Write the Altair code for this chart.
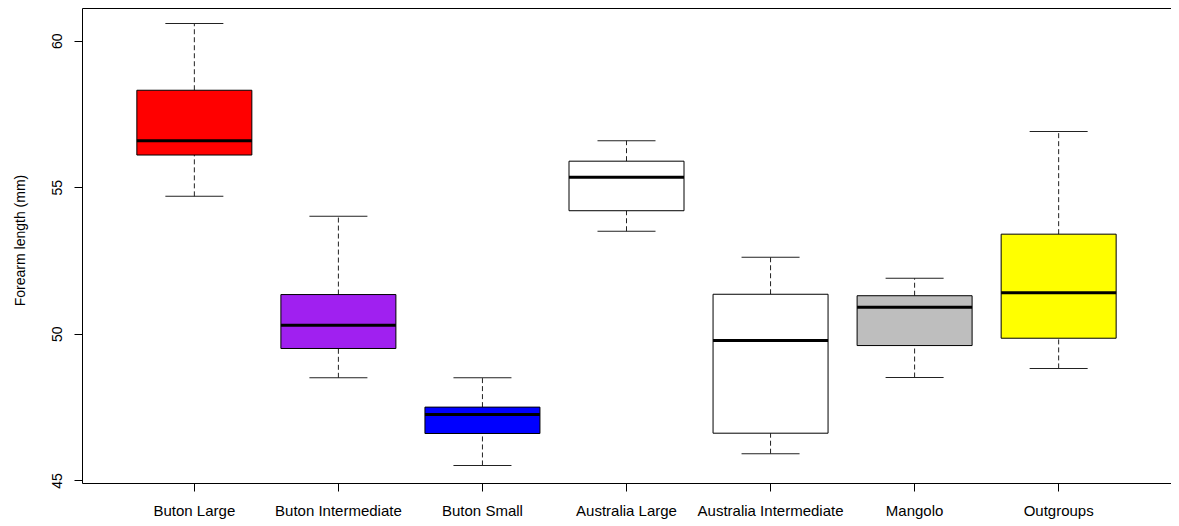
import altair as alt
import pandas as pd

groups = ["Buton Large", "Buton Intermediate", "Buton Small", "Australia Large",
          "Australia Intermediate", "Mangolo", "Outgroups"]
lower = [54.69, 48.50, 45.51, 53.50, 45.91, 48.51, 48.82]
q1 = [56.10, 49.50, 46.60, 54.20, 46.61, 49.60, 49.85]
median = [56.59, 50.29, 47.25, 55.34, 49.77, 50.91, 51.40]
q3 = [58.31, 51.34, 47.50, 55.89, 51.35, 51.30, 53.40]
upper = [60.59, 54.01, 48.50, 56.59, 52.61, 51.90, 56.90]
colors = ["#FF0000", "#A020F0", "#0000FF", "#FFFFFF", "#FFFFFF", "#BEBEBE", "#FFFF00"]

df = pd.DataFrame({"group": groups, "lower": lower, "q1": q1, "median": median,
                   "q3": q3, "upper": upper})

FONT = "Liberation Sans"
W, H = 1089, 475

xenc = alt.X("group:N", sort=groups,
             scale=alt.Scale(paddingInner=0, paddingOuter=0.28),
             axis=alt.Axis(title=None, labelAngle=0, tickSize=8, labelPadding=12,
                           domain=False, grid=False))
yscale = alt.Scale(domain=[44.911, 61.116], nice=False, zero=False)
yaxis = alt.Axis(title="Forearm length (mm)", values=[45, 50, 55, 60], labelAngle=-90,
                 labelAlign="center", labelBaseline="bottom",
                 tickSize=8, labelPadding=10, domain=False, grid=False,
                 titleFontSize=14)

base = alt.Chart(df)

whisk_low = base.mark_rule(color="#222222", strokeWidth=1, strokeDash=[5, 3]).encode(
    x=xenc, y=alt.Y("lower:Q", scale=yscale, axis=yaxis), y2="q1:Q")
whisk_up = base.mark_rule(color="#222222", strokeWidth=1, strokeDash=[5, 3]).encode(
    x=xenc, y=alt.Y("q3:Q", scale=yscale, axis=yaxis), y2="upper:Q")
cap_low = base.mark_tick(color="#222222", thickness=1, size=58, opacity=1).encode(
    x=xenc, y=alt.Y("lower:Q", scale=yscale, axis=yaxis))
cap_up = base.mark_tick(color="#222222", thickness=1, size=58, opacity=1).encode(
    x=xenc, y=alt.Y("upper:Q", scale=yscale, axis=yaxis))
box = base.mark_bar(size=115, stroke="black", strokeWidth=1, opacity=1).encode(
    x=xenc, y=alt.Y("q1:Q", scale=yscale, axis=yaxis), y2="q3:Q",
    fill=alt.Fill("group:N", scale=alt.Scale(domain=groups, range=colors), legend=None))
med = base.mark_tick(color="black", thickness=3, size=115, opacity=1).encode(
    x=xenc, y=alt.Y("median:Q", scale=yscale, axis=yaxis))

chart = alt.layer(whisk_low, whisk_up, cap_low, cap_up, box, med).properties(
    width=W, height=H,
    padding={"left": 74, "top": 0, "right": 0, "bottom": 38},
    autosize=alt.AutoSizeParams(type="none"),
).configure(
    background="white",
    view=alt.ViewConfig(stroke="black", strokeWidth=1),
    axis=alt.AxisConfig(labelFont=FONT, labelColor="black", tickColor="black",
                        titleFont=FONT, titleColor="black", titleFontWeight="normal"),
    axisX=alt.AxisConfig(labelFontSize=15),
    axisY=alt.AxisConfig(labelFontSize=14, titleFontSize=14, titleX=-62, titleY=232,
                         titleAngle=-90, titleAlign="center", titleBaseline="middle"),
)

chart.save("out.html", embed_options={"renderer": "svg", "actions": False})
